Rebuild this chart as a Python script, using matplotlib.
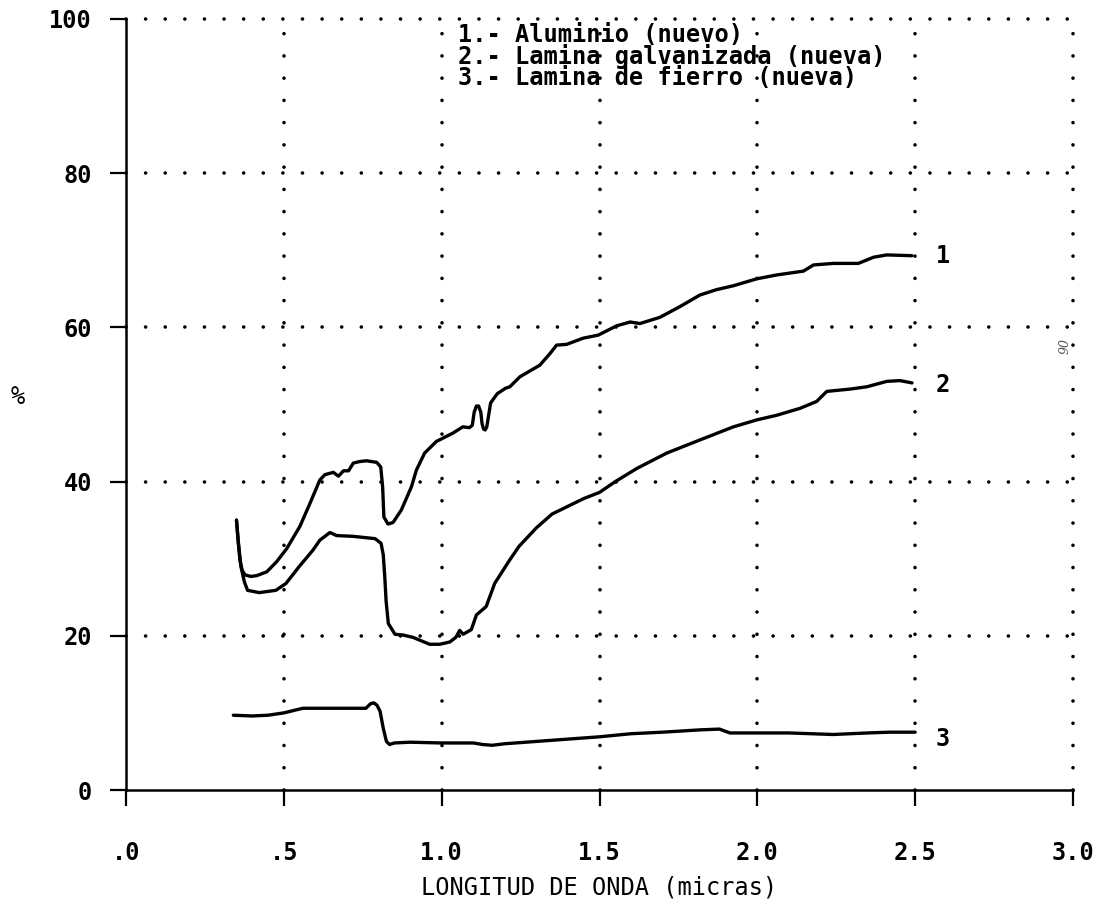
import numpy as np
import matplotlib
matplotlib.use('Agg')
import matplotlib.pyplot as plt

# Curva 1: Aluminio (nuevo)
x1 = [0.35, 0.355, 0.361, 0.368, 0.377, 0.395, 0.414, 0.446, 0.477, 0.509, 0.551, 0.583,
      0.614, 0.630, 0.657, 0.673, 0.689, 0.705, 0.720, 0.740, 0.762, 0.794, 0.807, 0.813,
      0.817, 0.830, 0.846, 0.872, 0.904, 0.920, 0.946, 0.983, 1.036, 1.067, 1.088, 1.097,
      1.103, 1.110, 1.117, 1.124, 1.128, 1.133, 1.138, 1.143, 1.155, 1.176, 1.202, 1.216,
      1.248, 1.311, 1.343, 1.364, 1.396, 1.448, 1.496, 1.554, 1.597, 1.628, 1.691, 1.755,
      1.818, 1.871, 1.924, 1.998, 2.061, 2.146, 2.178, 2.241, 2.320, 2.368, 2.410, 2.490]
y1 = [35.0, 32.5, 29.8, 28.5, 27.9, 27.7, 27.8, 28.3, 29.6, 31.3, 34.2, 37.2,
      40.2, 40.9, 41.2, 40.7, 41.4, 41.4, 42.4, 42.6, 42.7, 42.5, 41.9, 39.3,
      35.4, 34.5, 34.7, 36.3, 39.3, 41.5, 43.7, 45.2, 46.3, 47.1, 47.0, 47.3,
      49.0, 49.8, 49.8, 49.0, 47.5, 46.8, 46.7, 47.1, 50.2, 51.4, 52.1, 52.3,
      53.6, 55.1, 56.6, 57.7, 57.8, 58.6, 59.0, 60.2, 60.7, 60.5, 61.3, 62.7,
      64.2, 64.9, 65.4, 66.3, 66.8, 67.3, 68.1, 68.3, 68.3, 69.1, 69.4, 69.3]

# Curva 2: Lamina galvanizada (nueva)
x2 = [0.35, 0.356, 0.364, 0.375, 0.385, 0.422, 0.475, 0.507, 0.549, 0.592, 0.614, 0.646,
      0.667, 0.720, 0.789, 0.808, 0.815, 0.820, 0.824, 0.831, 0.852, 0.878, 0.909, 0.962,
      0.994, 1.026, 1.045, 1.057, 1.068, 1.094, 1.110, 1.141, 1.168, 1.215, 1.245, 1.300,
      1.350, 1.400, 1.450, 1.500, 1.550, 1.618, 1.713, 1.818, 1.924, 1.998, 2.061, 2.135,
      2.188, 2.220, 2.294, 2.347, 2.410, 2.452, 2.490]
y2 = [35.0, 32.0, 29.0, 27.0, 25.9, 25.6, 25.9, 26.8, 29.0, 31.1, 32.4, 33.4,
      33.0, 32.9, 32.6, 32.0, 30.5, 27.5, 24.5, 21.6, 20.2, 20.1, 19.8, 18.9,
      18.9, 19.2, 19.8, 20.7, 20.2, 20.8, 22.7, 23.8, 26.8, 29.8, 31.6, 34.0,
      35.8, 36.8, 37.8, 38.6, 40.0, 41.7, 43.7, 45.4, 47.1, 48.0, 48.6, 49.5,
      50.4, 51.7, 52.0, 52.3, 53.0, 53.1, 52.8]

# Curva 3: Lamina de fierro (nueva)
x3 = [0.34, 0.40, 0.45, 0.50, 0.53, 0.56, 0.62, 0.70, 0.76, 0.775, 0.785, 0.795,
      0.805, 0.815, 0.825, 0.835, 0.85, 0.90, 1.00, 1.10, 1.13, 1.16, 1.20, 1.30,
      1.40, 1.50, 1.60, 1.70, 1.818, 1.88, 1.913, 2.00, 2.10, 2.24, 2.35, 2.42, 2.50]
y3 = [9.7, 9.6, 9.7, 10.0, 10.3, 10.6, 10.6, 10.6, 10.6, 11.2, 11.3, 11.0,
      10.2, 8.0, 6.3, 5.9, 6.1, 6.2, 6.1, 6.1, 5.9, 5.8, 6.0, 6.3,
      6.6, 6.9, 7.3, 7.5, 7.8, 7.9, 7.4, 7.4, 7.4, 7.2, 7.4, 7.5, 7.5]

xticks = [0.0, 0.5, 1.0, 1.5, 2.0, 2.5, 3.0]
xticklabels = ['.0', '.5', '1.0', '1.5', '2.0', '2.5', '3.0']
yticks = [0, 20, 40, 60, 80, 100]
yticklabels = ['0', '20', '40', '60', '80', '100']

leyenda = ['1.- Aluminio (nuevo)',
           '2.- Lamina galvanizada (nueva)',
           '3.- Lamina de fierro (nueva)']
etiquetas = ['1', '2', '3']

plt.rcParams['font.family'] = ['DejaVu Sans Mono']
plt.rcParams['font.weight'] = 'bold'

fig = plt.figure(figsize=(11.03, 9.06), dpi=100)
ax = fig.add_axes([126 / 1103, 116 / 906, 947 / 1103, 771 / 906])

# rejilla punteada (puntos redondos)
ax.grid(axis='x', color='black', linewidth=2.6, linestyle=(0, (0.01, 6.15)),
        dash_capstyle='round')
ax.grid(axis='y', color='black', linewidth=2.6, linestyle=(0, (0.01, 5.42)),
        dash_capstyle='round')
ax.set_axisbelow(True)

for xs, ys in [(x1, y1), (x2, y2), (x3, y3)]:
    ax.plot(xs, ys, color='black', linewidth=2.4,
            solid_capstyle='round', solid_joinstyle='round')

ax.set_xlim(0, 3.0)
ax.set_ylim(0, 100)
ax.set_xticks(xticks)
ax.set_xticklabels(xticklabels)
ax.set_yticks(yticks)
ax.set_yticklabels(yticklabels)

for gl in ax.get_xgridlines() + ax.get_ygridlines():
    gl.set_clip_on(False)
# sin puntos sobre los propios ejes
ax.get_xgridlines()[0].set_visible(False)
ax.get_ygridlines()[0].set_visible(False)

ax.spines['top'].set_visible(False)
ax.spines['right'].set_visible(False)
ax.spines['left'].set_linewidth(1.8)
ax.spines['bottom'].set_linewidth(1.8)

ax.tick_params(axis='both', direction='out', length=11.5, width=1.6,
               labelsize=17, colors='black')
ax.tick_params(axis='x', pad=25)
ax.tick_params(axis='y', pad=13)

ax.set_xlabel('LONGITUD DE ONDA (micras)', fontsize=17, labelpad=8)
ax.set_ylabel('%', rotation=0, fontsize=17, ha='center', va='center')
ax.yaxis.set_label_coords(-0.114, 0.51)

# leyenda escrita como texto (un solo bloque, anclado en la linea base de la ultima fila)
ax.text(1.052, 91.4, '\n'.join(leyenda), fontsize=17, ha='left', va='baseline',
        linespacing=0.85, multialignment='left')

# numeros de curva al final de cada linea
for lab, xl, yl in zip(etiquetas, [2.588, 2.588, 2.588], [69.2, 52.5, 6.6]):
    ax.text(xl, yl, lab, fontsize=17, ha='center', va='center')

ax.text(2.974, 57.6, '90', fontsize=9, rotation=90, color='#555555',
        family='DejaVu Serif', style='italic', weight='normal',
        ha='center', va='center', clip_on=False)

fig.savefig('out.png', dpi=100)
